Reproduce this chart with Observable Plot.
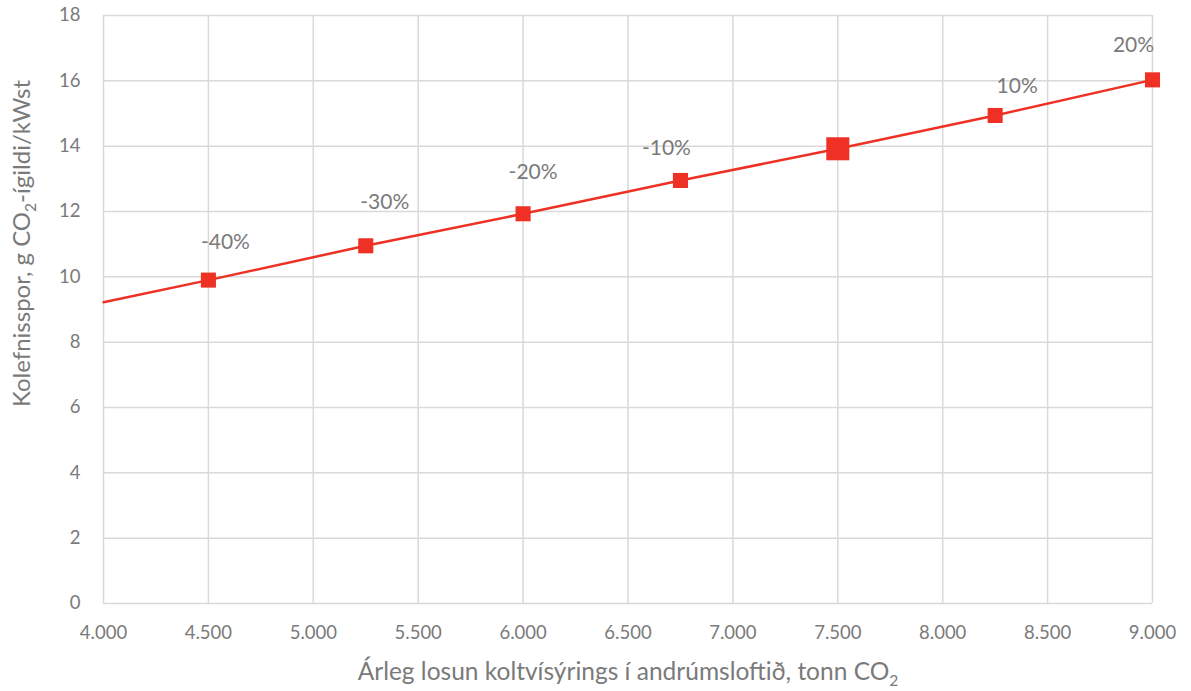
<!DOCTYPE html>
<html>
<head>
<meta charset="utf-8">
<script src="https://cdn.jsdelivr.net/npm/d3@7"></script>
<script src="https://cdn.jsdelivr.net/npm/@observablehq/plot@0.6"></script>
<style>
  html, body { margin: 0; padding: 0; background: #ffffff; }
  #chart svg { display: block; }
</style>
</head>
<body>
<div id="chart"></div>
<script>
// Annual CO2 emissions (tonnes) and resulting carbon footprint (g CO2-eq/kWh)
const emissions = [4500, 5250, 6000, 6750, 7500, 8250, 9000];
const footprint = [9.9, 10.95, 11.93, 12.95, 13.92, 14.94, 16.03];
const changeLabels = ["-40%", "-30%", "-20%", "-10%", "", "10%", "20%"];
const baseEmission = 7500;

// Trend line extends back to the start of the axis
const trendEmissions = [4000, ...emissions];
const trendFootprint = [9.22, ...footprint];

const xTicks = [4000, 4500, 5000, 5500, 6000, 6500, 7000, 7500, 8000, 8500, 9000];
const yTicks = [0, 2, 4, 6, 8, 10, 12, 14, 16, 18];

const xTitle = "Árleg losun koltvísýrings í andrúmsloftið, tonn CO2";
const yTitle = "Kolefnisspor, g CO2-ígildi/kWst";

// Label nudges (px) so the percentages sit clear of the line
const labelNudge = [[17, -38], [19, -44], [10, -42], [-14, -32], [0, 0], [22, -29], [-19, -35]];

const points = emissions.map((x, i) => ({x, y: footprint[i], label: changeLabels[i]}));
const trend = trendEmissions.map((x, i) => ({x, y: trendFootprint[i]}));

const red = "#ee3124";
const grey = "#7a7a7a";
const grid = "#d9d9d9";
const fmt = d => d3.format(",")(d).replace(/,/g, ".");

const labelMarks = points
  .map((p, i) => ({p, i}))
  .filter(({p}) => p.label)
  .map(({p, i}) => Plot.text([p], {
    x: "x", y: "y", text: "label",
    dx: labelNudge[i][0], dy: labelNudge[i][1],
    fill: grey, fontSize: 21
  }));

const chart = Plot.plot({
  width: 1191,
  height: 691,
  marginLeft: 103,
  marginRight: 39,
  marginTop: 15,
  marginBottom: 88,
  style: {fontFamily: "Lato, 'Open Sans', sans-serif", background: "#ffffff", color: grey},
  x: {domain: [4000, 9000], label: null},
  y: {domain: [0, 18], label: null},
  marks: [
    Plot.gridX(xTicks, {stroke: grid, strokeOpacity: 1, strokeWidth: 1.5}),
    Plot.gridY(yTicks, {stroke: grid, strokeOpacity: 1, strokeWidth: 1.5}),
    Plot.axisX(xTicks, {tickSize: 0, tickPadding: 22, fontSize: 18.5, fill: grey, tickFormat: fmt, label: null}),
    Plot.axisY(yTicks, {tickSize: 0, tickPadding: 23, fontSize: 18.5, fill: grey, label: null}),
    Plot.line(trend, {x: "x", y: "y", stroke: red, strokeWidth: 2.5}),
    Plot.dot(points.filter(d => d.x !== baseEmission), {x: "x", y: "y", symbol: "square", r: 8.5, fill: red, stroke: "none"}),
    Plot.dot(points.filter(d => d.x === baseEmission), {x: "x", y: "y", symbol: "square", r: 13, fill: red, stroke: "none"}),
    ...labelMarks,
    Plot.text([xTitle], {frameAnchor: "bottom", textAnchor: "middle", lineAnchor: "middle", dy: 69, fill: grey, fontSize: 24.5}),
    Plot.text([yTitle], {frameAnchor: "left", textAnchor: "middle", lineAnchor: "middle", rotate: -90, dx: -81, dy: -66, fill: grey, fontSize: 24})
  ]
});

// Render the "2" in CO2 as a subscript
d3.select(chart).selectAll("text, tspan").each(function () {
  const node = Array.from(this.childNodes).find(n => n.nodeType === 3 && n.nodeValue.includes("CO2"));
  if (!node) return;
  const full = node.nodeValue;
  const k = full.indexOf("CO2");
  const before = full.slice(0, k + 2);
  const after = full.slice(k + 3);
  const fs = parseFloat(this.getAttribute("font-size")) || 24;
  const shift = fs * 0.25;
  this.removeChild(node);
  const ns = "http://www.w3.org/2000/svg";
  const a = document.createElementNS(ns, "tspan");
  a.textContent = before;
  const s = document.createElementNS(ns, "tspan");
  s.textContent = "2";
  s.setAttribute("font-size", fs * 0.65);
  s.setAttribute("dy", shift);
  this.appendChild(a);
  this.appendChild(s);
  if (after) {
    const b = document.createElementNS(ns, "tspan");
    b.textContent = after;
    b.setAttribute("dy", -shift);
    this.appendChild(b);
  }
});

document.getElementById("chart").appendChild(chart);
</script>
</body>
</html>
